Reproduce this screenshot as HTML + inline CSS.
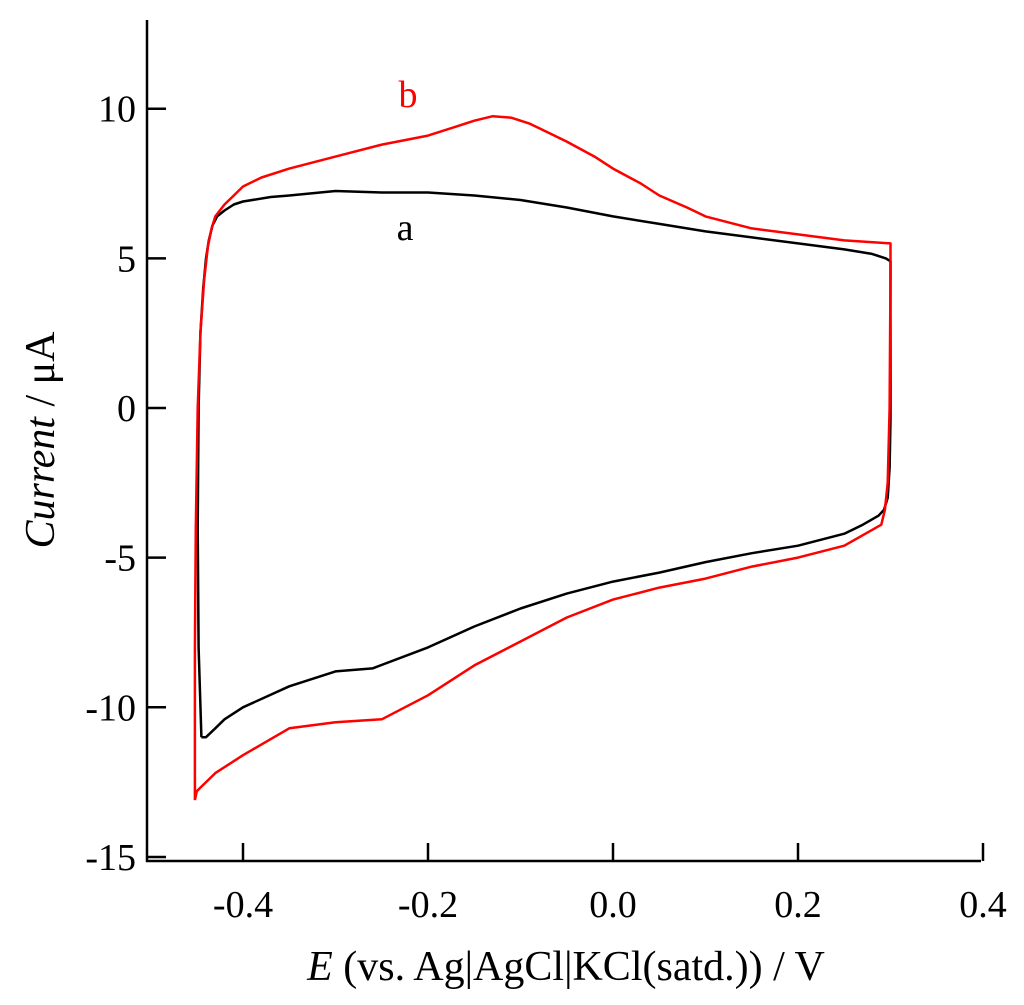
<!DOCTYPE html>
<html><head><meta charset="utf-8"><style>
html,body{margin:0;padding:0;background:#fff;}
svg{display:block;font-family:"Liberation Serif",serif;}
</style></head><body>
<svg id="chart" width="1024" height="1005">
<g id="axes"></g>
<g id="series"></g>
<text x="408" y="107" fill="#ff0000" font-size="38" text-anchor="middle">b</text>
<text x="405" y="240" fill="#000" font-size="38" text-anchor="middle">a</text>
<text x="566" y="980" font-size="42" text-anchor="middle"><tspan font-style="italic">E</tspan> (vs. Ag|AgCl|KCl(satd.)) / V</text>
<text transform="translate(54,440) rotate(-90)" font-size="42" text-anchor="middle"><tspan font-style="italic">Current</tspan> / μA</text>
</svg>
<script>
const xTicks=[-0.4,-0.2,0.0,0.2,0.4];
const xTickLabels=["-0.4","-0.2","0.0","0.2","0.4"];
const yTicks=[10,5,0,-5,-10,-15];
const yTickLabels=["10","5","0","-5","-10","-15"];
const aE=[-0.445,-0.448,-0.449,-0.448,-0.446,-0.443,-0.44,-0.437,-0.433,-0.428,-0.42,-0.41,-0.40,-0.37,-0.35,-0.30,-0.25,-0.2,-0.15,-0.1,-0.05,0.0,0.05,0.1,0.15,0.2,0.25,0.28,0.295,0.3,0.3,0.299,0.297,0.293,0.287,0.27,0.25,0.2,0.15,0.1,0.05,0.0,-0.05,-0.1,-0.15,-0.2,-0.26,-0.3,-0.35,-0.4,-0.42,-0.43,-0.44,-0.445];
const aI=[-11,-8,-4,0,2.5,4,5,5.6,6.1,6.4,6.6,6.8,6.9,7.05,7.1,7.25,7.2,7.2,7.1,6.95,6.7,6.4,6.15,5.9,5.7,5.5,5.3,5.15,5.0,4.9,-0.4,-2,-3.0,-3.4,-3.6,-3.9,-4.2,-4.6,-4.85,-5.15,-5.5,-5.8,-6.2,-6.7,-7.3,-8.0,-8.7,-8.8,-9.3,-10.0,-10.4,-10.7,-11,-11];
const bE=[-0.452,-0.452,-0.451,-0.449,-0.446,-0.442,-0.438,-0.434,-0.43,-0.42,-0.41,-0.4,-0.38,-0.35,-0.3,-0.25,-0.2,-0.17,-0.15,-0.13,-0.11,-0.09,-0.07,-0.05,-0.02,0.0,0.03,0.05,0.08,0.1,0.15,0.2,0.25,0.3,0.3,0.299,0.297,0.294,0.29,0.25,0.2,0.15,0.1,0.05,0.0,-0.05,-0.1,-0.15,-0.2,-0.25,-0.3,-0.35,-0.4,-0.43,-0.45,-0.452];
const bI=[-13.1,-8,-4,0,2.5,4.3,5.4,6.0,6.4,6.8,7.1,7.4,7.7,8.0,8.4,8.8,9.1,9.4,9.6,9.75,9.7,9.5,9.2,8.9,8.4,8.0,7.5,7.1,6.7,6.4,6.0,5.8,5.6,5.5,4.5,0,-2.5,-3.4,-3.9,-4.6,-5.0,-5.3,-5.7,-6.0,-6.4,-7.0,-7.8,-8.6,-9.6,-10.4,-10.5,-10.7,-11.6,-12.2,-12.8,-13.1];
const NS="http://www.w3.org/2000/svg";
const X=v=>613+(v/0.2)*185;
const Y=v=>408-v*29.93;
const ax=document.getElementById('axes');
function mk(t,a,p){const e=document.createElementNS(NS,t);for(const k in a)e.setAttribute(k,a[k]);p.appendChild(e);return e;}
let l=mk('line',{x1:147,y1:20,x2:147,y2:862,stroke:'#000','stroke-width':2.5},ax);


l=mk('line',{x1:146,y1:861,x2:981,y2:861,stroke:'#000','stroke-width':2.5},ax);


xTicks.forEach((v,i)=>{
 const t=mk('line',{x1:X(v),y1:861,x2:X(v),y2:843,stroke:'#000','stroke-width':2.5},ax);
 
 
 const s=mk('text',{x:X(v),y:917,'font-size':38,'text-anchor':'middle'},ax);
 s.textContent=xTickLabels[i];
 
 
});
yTicks.forEach((v,i)=>{
 const t=mk('line',{x1:147,y1:Y(v),x2:166,y2:Y(v),stroke:'#000','stroke-width':2.5},ax);
 
 
 const s=mk('text',{x:136,y:Y(v)+13,'font-size':38,'text-anchor':'end'},ax);
 s.textContent=yTickLabels[i];
 
 
});
const sg=document.getElementById('series');
function line(E,I,c,n){
 const p=mk('polyline',{points:E.map((e,i)=>X(e).toFixed(1)+','+Y(I[i]).toFixed(1)).join(' '),fill:'none',stroke:c,'stroke-width':2.5,'stroke-linejoin':'round'},sg);
 
 
}
line(aE,aI,'#000','curve-a');
line(bE,bI,'#ff0000','curve-b');
</script>
</body></html>
